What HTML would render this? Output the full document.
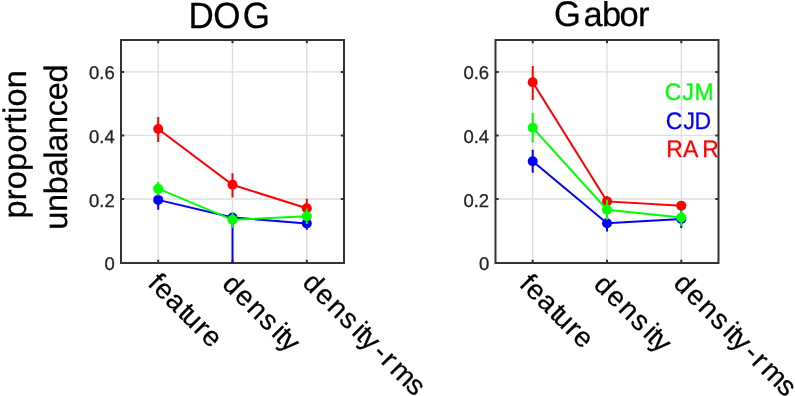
<!DOCTYPE html>
<html><head><meta charset="utf-8">
<style>
html,body{margin:0;padding:0;background:#fff;}
body{width:795px;height:396px;overflow:hidden;}
svg{display:block;will-change:transform;}
text{font-family:"Liberation Sans", sans-serif;text-rendering:geometricPrecision;}
</style></head>
<body>
<svg width="795" height="396" viewBox="0 0 795 396">
<defs>
  <clipPath id="cL"><rect x="121" y="40" width="223" height="223"/></clipPath>
  <clipPath id="cR"><rect x="495.5" y="40" width="223" height="223"/></clipPath>
</defs>
<rect width="795" height="396" fill="#fff"/>

<!-- ===== Left axes (DOG) ===== -->
<g stroke="#dedede" stroke-width="1.4" fill="none">
  <line x1="158.2" y1="40" x2="158.2" y2="263"/>
  <line x1="232.5" y1="40" x2="232.5" y2="263"/>
  <line x1="306.8" y1="40" x2="306.8" y2="263"/>
  <line x1="121" y1="199" x2="344" y2="199"/>
  <line x1="121" y1="135.4" x2="344" y2="135.4"/>
  <line x1="121" y1="71.9" x2="344" y2="71.9"/>
</g>
<g stroke="#333" stroke-width="2" fill="none">
  <rect x="121" y="40" width="223" height="223"/>
  <path d="M158.2,263v-3.2M232.5,263v-3.2M306.8,263v-3.2M158.2,40v3.2M232.5,40v3.2M306.8,40v3.2M121,199h3.2M121,135.4h3.2M121,71.9h3.2M344,199h-3.2M344,135.4h-3.2M344,71.9h-3.2"/>
</g>

<g clip-path="url(#cL)">
  <!-- CJD (blue) -->
  <g stroke="#0000ff" stroke-width="2" fill="none">
    <polyline points="158.2,199.9 232.5,217.5 306.8,223.4"/>
    <path d="M158.2,190.1V209.7M232.5,217.5V270M306.8,217.1V229.7"/>
  </g>
  <g fill="#0000ff"><circle cx="158.2" cy="199.9" r="5"/><circle cx="232.5" cy="217.5" r="5"/><circle cx="306.8" cy="223.4" r="5"/></g>
  <!-- RAR (red) -->
  <g stroke="#ff0000" stroke-width="2" fill="none">
    <polyline points="158.2,129 232.5,184.8 306.8,208.3"/>
    <path d="M158.2,116.9V142.1M232.5,173.3V197.5M306.8,198.8V217.8"/>
  </g>
  <g fill="#ff0000"><circle cx="158.2" cy="129" r="5"/><circle cx="232.5" cy="184.8" r="5"/><circle cx="306.8" cy="208.3" r="5"/></g>
  <!-- CJM (green) -->
  <g stroke="#00ff00" stroke-width="2" fill="none">
    <polyline points="158.2,188.7 232.5,219.8 306.8,216.2"/>
    <path d="M158.2,182V195.4M232.5,212.2V227.7M306.8,208.5V224"/>
  </g>
  <g fill="#00ff00"><circle cx="158.2" cy="188.7" r="5"/><circle cx="232.5" cy="219.8" r="5"/><circle cx="306.8" cy="216.2" r="5"/></g>
</g>

<g fill="#262626" stroke="#262626" stroke-width="0.3" font-size="18.5" text-anchor="end">
  <text x="114.9" y="270.2">0</text>
  <text x="114.7" y="206.5">0.2</text>
  <text x="114.7" y="143">0.4</text>
  <text x="114.7" y="79.1">0.6</text>
</g>
<text transform="translate(0,28) scale(1,1.04)" x="188.5 213.2 242.7" y="0" font-size="35" fill="#000" stroke="#000" stroke-width="0.25">DOG</text>

<g font-size="32.5" fill="#000" stroke="#000" stroke-width="0.25">
  <text transform="translate(25.5,218.5) rotate(-90)" letter-spacing="0.21">proportion</text>
  <text transform="translate(67.2,229.8) rotate(-90)" letter-spacing="-0.31">unbalanced</text>
</g>

<g font-size="28" fill="#000" stroke="#000" stroke-width="0.25">
  <text transform="translate(146.75,284.7) rotate(45)" x="0 8.5 24.8 42.6 48.05 65 75.3">feature</text>
  <text transform="translate(221,285.4) rotate(45)" x="0 17.3 34.9 52 69.9 75.8 82">density</text>
  <text transform="translate(301.35,284) rotate(45)" x="0 17.3 34.9 52 69.9 75.8 82 99.2 111.2 123.6 146">density-rms</text>
</g>

<!-- ===== Right axes (Gabor) ===== -->
<g stroke="#dedede" stroke-width="1.4" fill="none">
  <line x1="532.7" y1="40" x2="532.7" y2="263"/>
  <line x1="607" y1="40" x2="607" y2="263"/>
  <line x1="681.3" y1="40" x2="681.3" y2="263"/>
  <line x1="495.5" y1="199" x2="718.5" y2="199"/>
  <line x1="495.5" y1="135.4" x2="718.5" y2="135.4"/>
  <line x1="495.5" y1="71.9" x2="718.5" y2="71.9"/>
</g>
<g stroke="#333" stroke-width="2" fill="none">
  <rect x="495.5" y="40" width="223" height="223"/>
  <path d="M532.7,263v-3.2M607,263v-3.2M681.3,263v-3.2M532.7,40v3.2M607,40v3.2M681.3,40v3.2M495.5,199h3.2M495.5,135.4h3.2M495.5,71.9h3.2M718.5,199h-3.2M718.5,135.4h-3.2M718.5,71.9h-3.2"/>
</g>

<g clip-path="url(#cR)">
  <g stroke="#0000ff" stroke-width="2" fill="none">
    <polyline points="532.7,161.3 607,223.2 681.3,218.9"/>
    <path d="M532.7,149.8V172.8M607,214.9V231.5M681.3,209.7V228"/>
  </g>
  <g fill="#0000ff"><circle cx="532.7" cy="161.3" r="5"/><circle cx="607" cy="223.2" r="5"/><circle cx="681.3" cy="218.9" r="5"/></g>
  <g stroke="#ff0000" stroke-width="2" fill="none">
    <polyline points="532.7,82.2 607,201.4 681.3,205.8"/>
    <path d="M532.7,66.1V100.1M607,196V206.8M681.3,202V209.6"/>
  </g>
  <g fill="#ff0000"><circle cx="532.7" cy="82.2" r="5"/><circle cx="607" cy="201.4" r="5"/><circle cx="681.3" cy="205.8" r="5"/></g>
  <g stroke="#00ff00" stroke-width="2" fill="none">
    <polyline points="532.7,127.7 607,209.7 681.3,217.5"/>
    <path d="M532.7,112.7V142.4M607,199.7V219.7M681.3,210.6V225.9"/>
  </g>
  <g fill="#00ff00"><circle cx="532.7" cy="127.7" r="5"/><circle cx="607" cy="209.7" r="5"/><circle cx="681.3" cy="217.5" r="5"/></g>
</g>

<g fill="#262626" stroke="#262626" stroke-width="0.3" font-size="18.5" text-anchor="end">
  <text x="489.3" y="270.2">0</text>
  <text x="489.1" y="206.5">0.2</text>
  <text x="489.1" y="143">0.4</text>
  <text x="489.1" y="79.1">0.6</text>
</g>
<text transform="translate(0,25.5) scale(1,1.027)" x="553.96" y="0" font-size="34.5" fill="#000" stroke="#000" stroke-width="0.25">G</text>
<text x="583.43 601.9 619.4 638.05" y="25.5" font-size="34.5" fill="#000" stroke="#000" stroke-width="0.25">abor</text>

<g font-size="23">
  <text transform="translate(0,99.5) scale(1,1.04)" x="664.8 682.6 694.4" y="0" fill="#00ff00" stroke="#00ff00" stroke-width="0.25">CJM</text>
  <text transform="translate(0,128.5) scale(1,1.04)" x="665.7 683.5 694.5" y="0" fill="#0000ff" stroke="#0000ff" stroke-width="0.25">CJD</text>
  <text transform="translate(0,156.9) scale(1,1.04)" x="666.3 682.9 702.2" y="0" fill="#ff0000" stroke="#ff0000" stroke-width="0.25">RAR</text>
</g>

<g font-size="28" fill="#000" stroke="#000" stroke-width="0.25">
  <text transform="translate(518.35,285.45) rotate(45)" x="0 8.5 24.8 42.6 48.05 65 75.3">feature</text>
  <text transform="translate(592.5,285.9) rotate(45)" x="0 17.3 34.9 52 69.9 75.8 82">density</text>
  <text transform="translate(672.25,284.65) rotate(45)" x="0 17.3 34.9 52 69.9 75.8 82 99.2 111.2 123.6 146">density-rms</text>
</g>
</svg>
</body></html>
